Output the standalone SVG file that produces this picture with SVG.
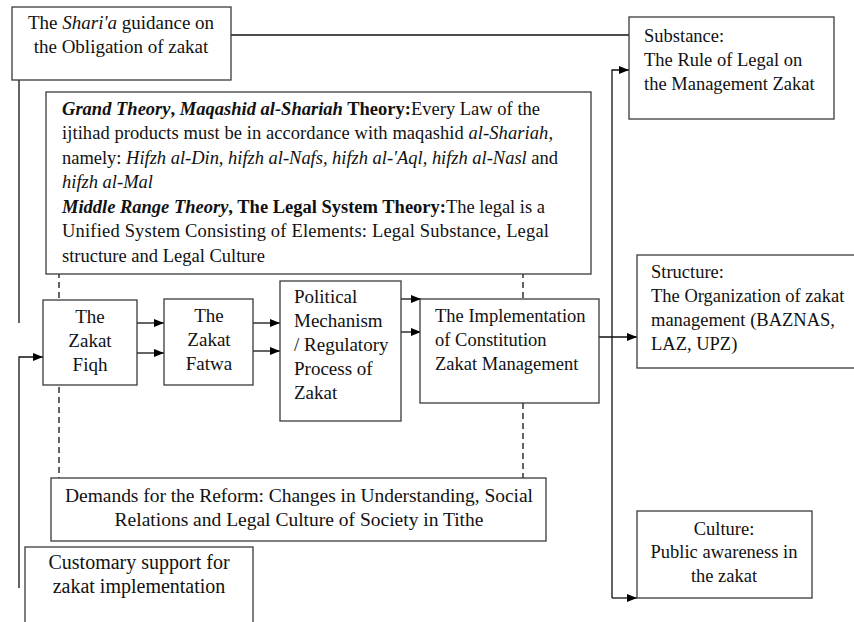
<svg xmlns="http://www.w3.org/2000/svg" width="854" height="622" viewBox="0 0 854 622">
<defs>
<marker id="ah" markerWidth="10" markerHeight="8" refX="10" refY="4" orient="auto" markerUnits="userSpaceOnUse"><path d="M0,0 L10,4 L0,8 Z" fill="#000"/></marker>
<clipPath id="polclip"><rect x="281" y="282" width="119" height="138"/></clipPath>
<style>
.box{fill:#fff;stroke:#3a3a3a;stroke-width:1.3}
.t{font-family:"Liberation Serif","Times New Roman",serif;font-size:18.5px;fill:#111}
.s19{font-size:19px}
.s195{font-size:19.5px}
.s20{font-size:20px}
.c{text-anchor:middle}
.ln{fill:none;stroke:#111;stroke-width:1.3}
.ar{fill:none;stroke:#111;stroke-width:1.3;marker-end:url(#ah)}
.ds{fill:none;stroke:#111;stroke-width:1.3;stroke-dasharray:6,4}
.i{font-style:italic}
.b{font-weight:bold}
.bi{font-weight:bold;font-style:italic}
</style>
</defs>
<rect width="854" height="622" fill="#fff"/>
<g id="connectors">
<line class="ln" x1="231" y1="35" x2="629" y2="35"/>
<line class="ln" x1="19" y1="80" x2="19" y2="323"/>
<polyline class="ar" points="19,588 19,357 43,357"/>
<polyline class="ar" points="612,598 612,70 629,70"/>
<polyline class="ar" points="612,598 637,598"/>
<line class="ar" x1="137" y1="323" x2="164" y2="323"/>
<line class="ar" x1="137" y1="353" x2="164" y2="353"/>
<line class="ar" x1="253" y1="323" x2="280" y2="323"/>
<line class="ar" x1="253" y1="351" x2="280" y2="351"/>
<line class="ar" x1="401" y1="299" x2="421" y2="299"/>
<line class="ar" x1="401" y1="332" x2="421" y2="332"/>
<line class="ar" x1="573" y1="337" x2="637" y2="337"/>
<line class="ds" x1="59" y1="262" x2="59" y2="300"/>
<line class="ds" x1="59" y1="377" x2="59" y2="519"/>
<line class="ds" x1="523" y1="262" x2="523" y2="299"/>
<line class="ds" x1="523" y1="403" x2="523" y2="484"/>
</g>
<g id="shariah">
<rect class="box" x="12" y="7" width="219" height="73"/>
<text class="t s19 c" x="121" y="29">The <tspan class="i">Shari'a</tspan> guidance on</text>
<text class="t s19 c" x="121" y="53">the Obligation of zakat</text>
</g>
<g id="substance">
<rect class="box" x="629" y="17" width="205" height="102"/>
<text class="t" x="644" y="42">Substance:</text>
<text class="t" x="644" y="66">The Rule of Legal on</text>
<text class="t" x="644" y="90">the Management Zakat</text>
</g>
<g id="theory">
<rect class="box" x="46" y="92" width="545" height="182"/>
<text class="t" x="62" y="115" textLength="478" lengthAdjust="spacing"><tspan class="bi">Grand Theory</tspan><tspan class="b">, </tspan><tspan class="bi">Maqashid al-Shariah</tspan><tspan class="b"> Theory:</tspan>Every Law of the</text>
<text class="t" x="62" y="139" textLength="491" lengthAdjust="spacing">ijtihad products must be in accordance with maqashid <tspan class="i">al-Shariah</tspan>,</text>
<text class="t" x="62" y="164" textLength="496" lengthAdjust="spacing">namely: <tspan class="i">Hifzh al-Din, hifzh al-Nafs, hifzh al-'Aql, hifzh al-Nasl</tspan> and</text>
<text class="t i" x="62" y="188">hifzh al-Mal</text>
<text class="t" x="62" y="213" textLength="483" lengthAdjust="spacing"><tspan class="bi">Middle Range Theory</tspan><tspan class="b">, The Legal System Theory:</tspan>The legal is a</text>
<text class="t" x="62" y="237" textLength="487" lengthAdjust="spacing">Unified System Consisting of Elements: Legal Substance, Legal</text>
<text class="t" x="62" y="262">structure and Legal Culture</text>
</g>
<g id="fiqh">
<rect class="box" x="43" y="300" width="94" height="85"/>
<text class="t s19 c" x="90" y="323">The</text>
<text class="t s19 c" x="90" y="347">Zakat</text>
<text class="t s19 c" x="90" y="371">Fiqh</text>
</g>
<g id="fatwa">
<rect class="box" x="164" y="299" width="89" height="86"/>
<text class="t s19 c" x="209" y="322">The</text>
<text class="t s19 c" x="209" y="346">Zakat</text>
<text class="t s19 c" x="209" y="370">Fatwa</text>
</g>
<g id="political">
<rect class="box" x="280" y="281" width="121" height="140"/>
<g clip-path="url(#polclip)">
<text class="t s19" x="294" y="303">Political</text>
<text class="t s19" x="294" y="327">Mechanism</text>
<text class="t s19" x="294" y="351">/ Regulatory</text>
<text class="t s19" x="294" y="375">Process of</text>
<text class="t s19" x="294" y="399">Zakat</text>
</g>
</g>
<g id="implementation">
<rect class="box" x="420" y="299" width="179" height="104"/>
<text class="t" x="435" y="322">The Implementation</text>
<text class="t" x="435" y="346">of Constitution</text>
<text class="t" x="435" y="370">Zakat Management</text>
</g>
<g id="structure">
<rect class="box" x="637" y="255" width="230" height="113"/>
<text class="t" x="651" y="278">Structure:</text>
<text class="t" x="651" y="302">The Organization of zakat</text>
<text class="t" x="651" y="326">management (BAZNAS,</text>
<text class="t" x="651" y="350">LAZ, UPZ)</text>
</g>
<g id="demands">
<rect class="box" x="51" y="478" width="495" height="63"/>
<text class="t s195 c" x="299" y="502" textLength="468" lengthAdjust="spacing">Demands for the Reform: Changes in Understanding, Social</text>
<text class="t s195 c" x="299" y="526">Relations and Legal Culture of Society in Tithe</text>
</g>
<g id="customary">
<rect class="box" x="25" y="547" width="228" height="90"/>
<text class="t s20 c" x="139" y="569">Customary support for</text>
<text class="t s20 c" x="139" y="593">zakat implementation</text>
</g>
<g id="culture">
<rect class="box" x="637" y="511" width="175" height="87"/>
<text class="t c" x="724" y="535">Culture:</text>
<text class="t c" x="724" y="558">Public awareness in</text>
<text class="t c" x="724" y="582">the zakat</text>
</g>
</svg>
